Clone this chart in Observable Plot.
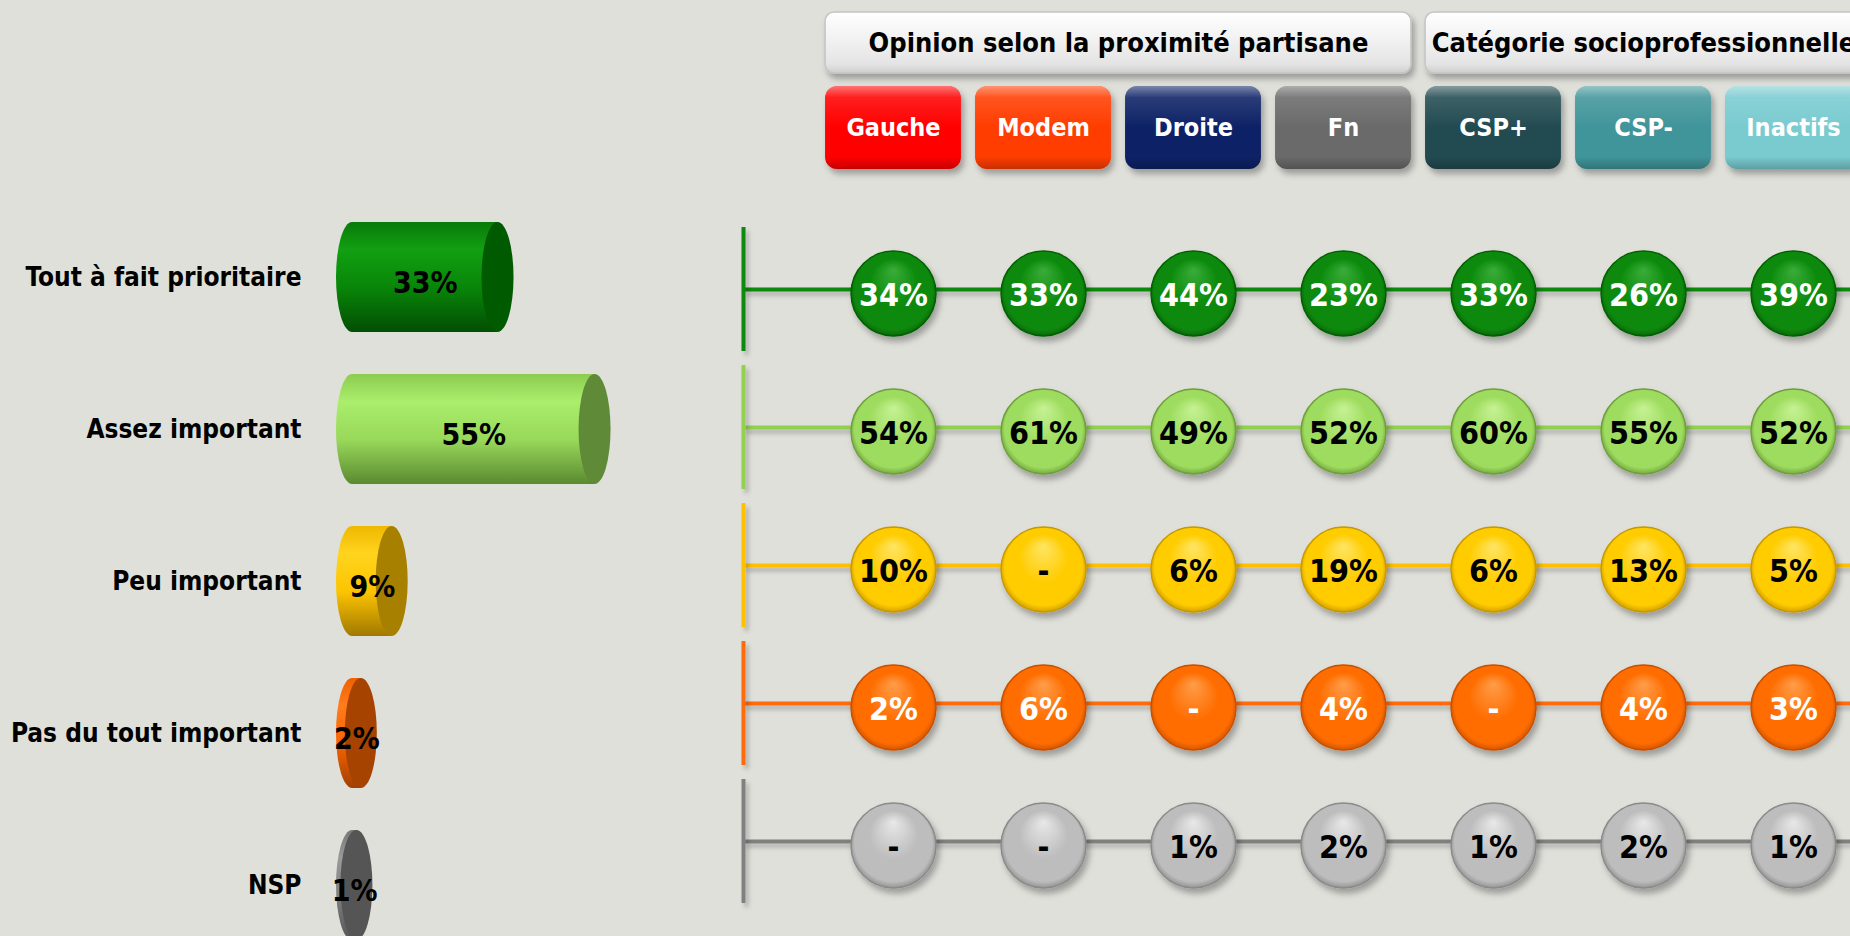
<!DOCTYPE html>
<html><head><meta charset="utf-8">
<script src="https://cdn.jsdelivr.net/npm/d3@7"></script>
<script src="https://cdn.jsdelivr.net/npm/@observablehq/plot@0.6"></script>
<style>
html,body{margin:0;padding:0;background:#dfe0da;}
#wrap{position:relative;width:1850px;height:936px;overflow:hidden;background:#dfe0da;}
#wrap svg{position:absolute;}
</style></head><body><div id="wrap"></div>
<script>
// ---------- data ----------
const categories = ["Tout à fait prioritaire", "Assez important", "Peu important", "Pas du tout important", "NSP"];
const ensemble = [33, 55, 9, 2, 1];
const groups = ["Opinion selon la proximité partisane", "Catégorie socioprofessionnelle"];
const columns = ["Gauche", "Modem", "Droite", "Fn", "CSP+", "CSP-", "Inactifs"];
const columnGroup = [0, 0, 0, 0, 1, 1, 1];
const toutAFait = [34, 33, 44, 23, 33, 26, 39];
const assez = [54, 61, 49, 52, 60, 55, 52];
const peu = [10, null, 6, 19, 6, 13, 5];
const pasDuTout = [2, 6, null, 4, null, 4, 3];
const nsp = [null, null, 1, 2, 1, 2, 1];
const series = [toutAFait, assez, peu, pasDuTout, nsp];

// ---------- styles ----------
const columnColors = ["#ff0000", "#ff3c00", "#0b2466", "#6a6a6a", "#234c51", "#41959a", "#79cbd0"];
const lineColors = ["#0d8a0d", "#92d050", "#ffc000", "#ff6a10", "#808080"];
const ballBase = ["#0a8a0a", "#9edc5e", "#ffcc00", "#ff6d00", "#bdbdbd"];
const ballLight = ["#3aac3a", "#c6f294", "#ffe565", "#ff9d4a", "#e8e8e8"];
const ballDark = ["#056005", "#6e9e3e", "#c89800", "#c85000", "#8a8a8a"];
const textColors = ["#ffffff", "#000000", "#000000", "#ffffff", "#000000"];
const cylStops = [
  ["#087a08", "#12a012", "#088508", "#034e03"],
  ["#8ccc50", "#aaee6c", "#98d85a", "#5a8a30"],
  ["#f0b800", "#ffd41e", "#fcc400", "#a07800"],
  ["#f06000", "#ff7c1e", "#f86400", "#a04000"],
  ["#777777", "#9a9a9a", "#808080", "#555555"]
];
const capColors = ["#005a00", "#5f8a37", "#a88000", "#a64300", "#555555"];
const font = "'DejaVu Sans Condensed', 'Liberation Sans', sans-serif";

const wrap = document.getElementById("wrap");

// gradients & filters
function lin(id, stops) {
  return `<linearGradient id="${id}" x1="0" y1="0" x2="0" y2="1">` +
    stops.map(([o, c, a = 1]) => `<stop offset="${o}" stop-color="${c}" stop-opacity="${a}"/>`).join("") +
    `</linearGradient>`;
}
let defs = "";
cylStops.forEach((s, i) => { defs += lin("cyl" + i, [[0, s[0]], [0.25, s[1]], [0.6, s[2]], [1, s[3]]]); });
ballBase.forEach((b, i) => {
  defs += `<radialGradient id="ball${i}" cx="50%" cy="50%" r="52%" fx="50%" fy="22%">
    <stop offset="0" stop-color="${ballLight[i]}"/><stop offset="0.55" stop-color="${b}"/>
    <stop offset="0.88" stop-color="${b}"/><stop offset="1" stop-color="${ballDark[i]}"/></radialGradient>`;
});
defs += lin("gloss", [[0, "#ffffff", 0.45], [0.14, "#ffffff", 0.12], [0.5, "#ffffff", 0], [0.85, "#000000", 0], [1, "#000000", 0.22]]);
defs += lin("hdr", [[0, "#ffffff"], [0.5, "#f0f0f0"], [0.85, "#e4e4e4"], [1, "#cfcfcf"]]);
defs += `<filter id="shadow" filterUnits="userSpaceOnUse" x="-100" y="-100" width="2200" height="1200"><feDropShadow dx="3" dy="5" stdDeviation="3" flood-color="#000" flood-opacity="0.3"/></filter>`;
defs += `<filter id="lshadow" filterUnits="userSpaceOnUse" x="-100" y="-100" width="2200" height="1200"><feDropShadow dx="3" dy="4" stdDeviation="2" flood-color="#000" flood-opacity="0.22"/></filter>`;
wrap.insertAdjacentHTML("beforeend", `<svg width="0" height="0" style="position:absolute;left:0;top:0"><defs>${defs}</defs></svg>`);

function place(svg, left, top) {
  svg.style.left = left + "px";
  svg.style.top = top + "px";
  wrap.appendChild(svg);
  return svg;
}
function shade(svg, label, filter, which) {
  svg.querySelectorAll(`g[aria-label="${label}"]`).forEach((g, k) => {
    if (which === undefined || which.includes(k)) g.setAttribute("filter", `url(#${filter})`);
  });
}
const baseStyle = (size) => `background: transparent; overflow: visible; font-family: ${font}; font-size: ${size}px; font-weight: bold; color: #000;`;

// ---------- left: cylinders ----------
const capR = 16, cylInset = 21, cylRy = 55;
const ensData = categories.map((c, i) => ({cat: c, v: ensemble[i], i}));
const leftMarks = ensData.flatMap(d => [
  Plot.barX([d], {x1: () => 0, x2: () => 0, y: "cat", insetLeft: -capR, insetRight: -capR,
    insetTop: cylInset, insetBottom: cylInset, rx: capR, ry: cylRy, fill: `url(#cyl${d.i})`}),
  Plot.barX([d], {x1: () => 0, x2: "v", y: "cat", insetTop: cylInset, insetBottom: cylInset, fill: `url(#cyl${d.i})`}),
  Plot.barX([d], {x1: "v", x2: "v", y: "cat", insetLeft: -capR, insetRight: -capR,
    insetTop: cylInset, insetBottom: cylInset, rx: capR, ry: cylRy, fill: capColors[d.i]})
]);
const left = Plot.plot({
  width: 700, height: 936,
  marginLeft: 336, marginRight: 0, marginTop: 0, marginBottom: 0,
  x: {domain: [0, 60], range: [352, 616.6], axis: null},
  y: {domain: categories, range: [201, 961], padding: 0, tickSize: 0, tickPadding: 35, label: null},
  style: baseStyle(26),
  marks: [
    ...leftMarks,
    Plot.text(ensData, {x: d => d.v / 2, y: "cat", text: d => d.v + "%", fill: "#000", fontSize: 30, fontWeight: "bold", dy: 6})
  ]
});
place(left, 0, 0);

// ---------- right: header groups ----------
const half = 0.453;
const xOrigin = -1;
const xScale = {domain: [xOrigin, 6.38], range: [43, 1150], axis: null};
const groupData = groups.map((g, k) => {
  const idx = columns.map((c, j) => j).filter(j => columnGroup[j] === k);
  return {g, a: d3.min(idx), b: d3.max(idx)};
});
const top1 = Plot.plot({
  width: 1150, height: 80, marginLeft: 43, marginRight: 0, marginTop: 0, marginBottom: 0,
  x: xScale, style: baseStyle(27),
  marks: [
    Plot.barX(groupData, {x1: d => d.a - half, x2: d => d.b + half, fill: "url(#hdr)", stroke: "#c4c4c4", strokeWidth: 1.5,
      rx: 9, ry: 9, insetTop: 12, insetBottom: 7}),
    Plot.text(groupData, {x: d => (d.a + d.b) / 2, text: "g", fill: "#000", fontSize: 27, fontWeight: "bold", dy: 3})
  ]
});
place(top1, 700, 0);
shade(top1, "bar", "shadow", [0]);

// ---------- right: column buttons ----------
const top2 = Plot.plot({
  width: 1150, height: 100, marginLeft: 43, marginRight: 0, marginTop: 0, marginBottom: 0,
  x: xScale, color: {type: "identity"}, style: baseStyle(25),
  marks: [
    Plot.barX(columns, {x1: (d, j) => j - half, x2: (d, j) => j + half, fill: (d, j) => columnColors[j],
      rx: 12, ry: 12, insetTop: 6, insetBottom: 11}),
    Plot.barX(columns, {x1: (d, j) => j - half, x2: (d, j) => j + half, fill: "url(#gloss)",
      rx: 12, ry: 12, insetTop: 6, insetBottom: 11}),
    Plot.text(columns, {x: (d, j) => j, text: d => d, fill: "#ffffff", fontSize: 25, fontWeight: "bold", dy: -3})
  ]
});
place(top2, 700, 80);
shade(top2, "bar", "shadow", [0]);

// ---------- right: rows of balls ----------
const cells = categories.flatMap((c, i) => columns.map((col, j) => ({cat: c, i, j, col, v: series[i][j]})));
const right = Plot.plot({
  width: 1150, height: 756, marginLeft: 43, marginRight: 0, marginTop: 0, marginBottom: 0,
  x: xScale,
  y: {domain: categories, range: [38, 731.5], padding: 0, axis: null},
  color: {type: "identity"},
  style: baseStyle(32),
  marks: [
    Plot.ruleY(categories, {y: d => d, stroke: (d, i) => lineColors[i], strokeWidth: 4}),
    Plot.tickX(categories, {x: () => xOrigin, y: d => d, stroke: (d, i) => lineColors[i], strokeWidth: 4, insetTop: 7, insetBottom: 7}),
    Plot.dot(cells, {x: "j", y: "cat", r: 42.5, fill: d => `url(#ball${d.i})`, stroke: d => ballDark[d.i], strokeWidth: 1.4, dy: 4}),
    Plot.text(cells, {x: "j", y: "cat", text: d => d.v == null ? "-" : d.v + "%", fill: d => textColors[d.i],
      fontSize: 32, fontWeight: "bold", dy: 6})
  ]
});
place(right, 700, 180);
shade(right, "rule", "lshadow");
shade(right, "tick", "lshadow");
shade(right, "dot", "shadow");
</script>
</body></html>
